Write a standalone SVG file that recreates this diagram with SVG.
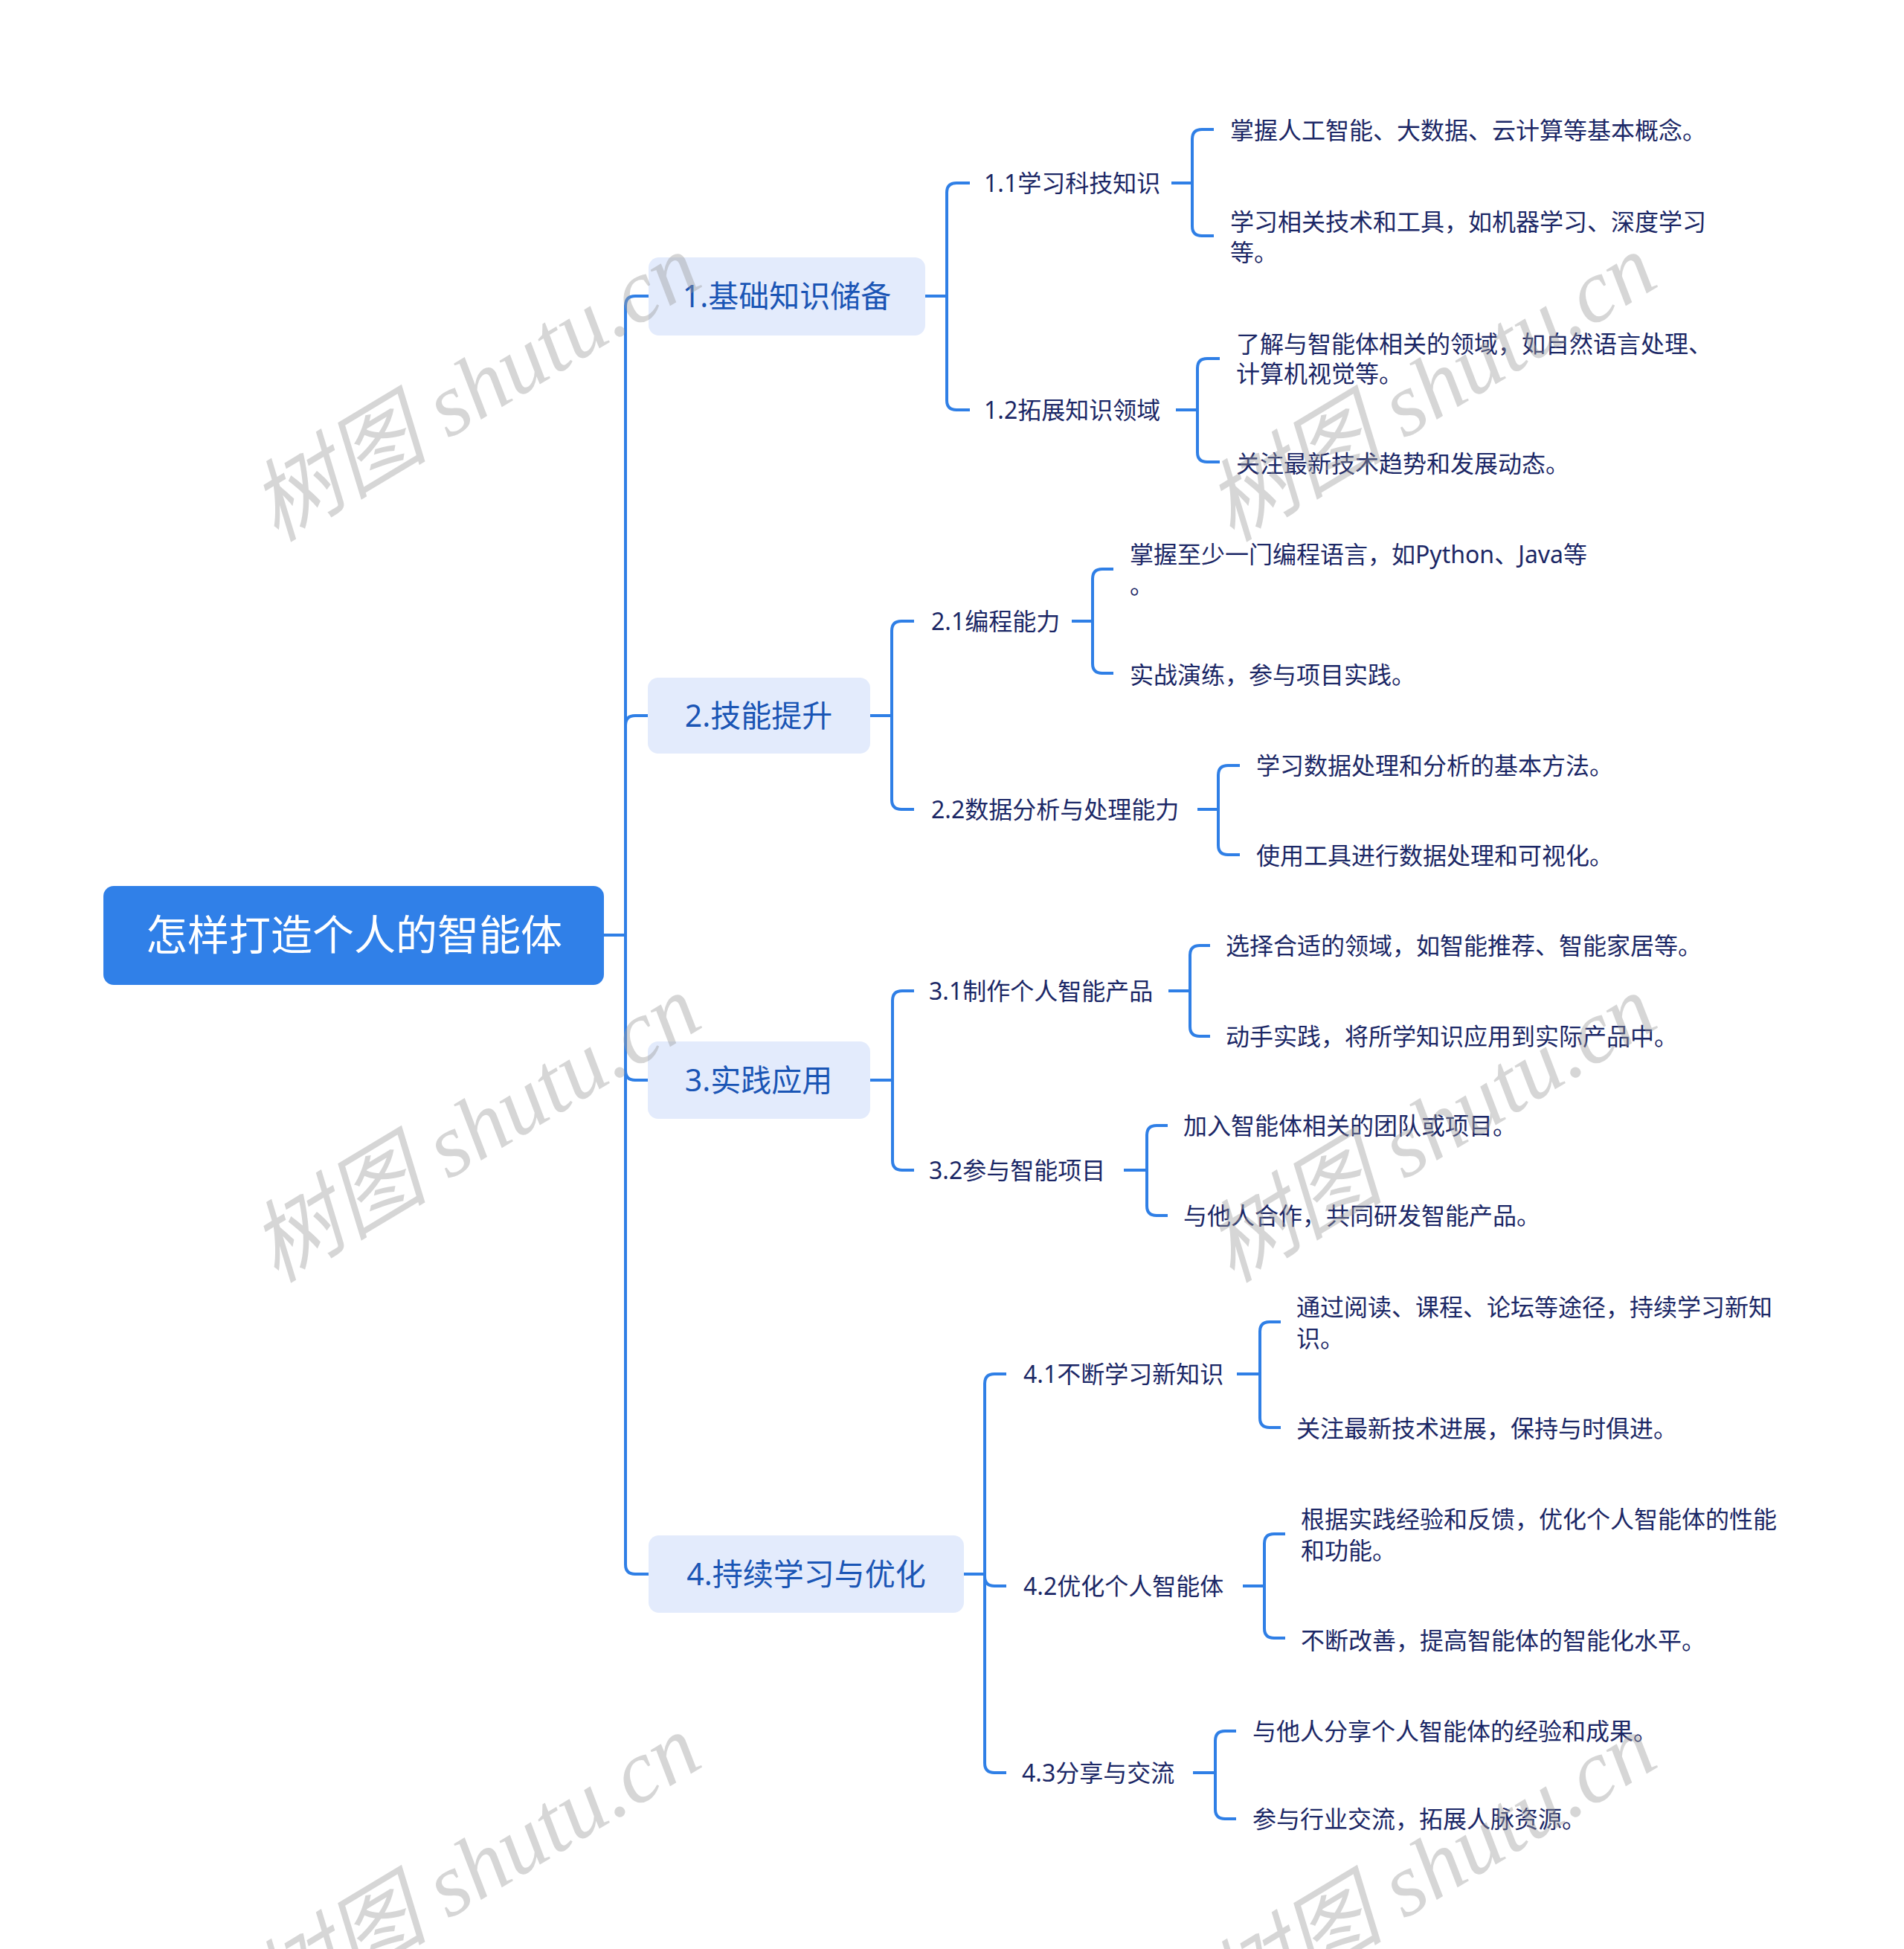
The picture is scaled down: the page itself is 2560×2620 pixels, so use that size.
<svg xmlns="http://www.w3.org/2000/svg" width="2560" height="2620" viewBox="0 0 2560 2620">
<style>
.ln{fill:none;stroke:#2f7fe6;stroke-width:4;stroke-linecap:butt;stroke-linejoin:round}
.root{fill:#3080e8}
.l1{fill:#e3ebfc}
.t0{font-family:"Noto Sans","Noto Sans CJK SC",sans-serif;font-size:56px;fill:#ffffff;text-anchor:middle}
.t1{font-family:"Noto Sans","Noto Sans CJK SC",sans-serif;font-size:41px;fill:#1a55b5;text-anchor:middle}
.t2{font-family:"Noto Sans","Noto Sans CJK SC",sans-serif;font-size:32px;fill:#1b2766}
.wm{font-family:"Liberation Serif","Noto Sans CJK SC",serif;font-style:italic;font-size:120px;fill:#9a9a9a;opacity:0.4;text-anchor:middle}
</style>
<rect width="2560" height="2620" fill="#ffffff"/>
<g id="connectors">
<path class="ln" d="M812,1257 H841 V411 Q841,398 854,398 H872"/>
<path class="ln" d="M812,1257 H841 V975 Q841,962 854,962 H872"/>
<path class="ln" d="M812,1257 H841 V1439 Q841,1452 854,1452 H872"/>
<path class="ln" d="M812,1257 H841 V2103 Q841,2116 854,2116 H872"/>
<path class="ln" d="M1244,398 H1273 V259 Q1273,246 1286,246 H1304"/>
<path class="ln" d="M1244,398 H1273 V538 Q1273,551 1286,551 H1304"/>
<path class="ln" d="M1575,246 H1603 V187 Q1603,174 1616,174 H1632"/>
<path class="ln" d="M1575,246 H1603 V304 Q1603,317 1616,317 H1632"/>
<path class="ln" d="M1581,551 H1610 V495 Q1610,482 1623,482 H1640"/>
<path class="ln" d="M1581,551 H1610 V608 Q1610,621 1623,621 H1640"/>
<path class="ln" d="M1170,962 H1199 V848 Q1199,835 1212,835 H1229"/>
<path class="ln" d="M1170,962 H1199 V1075 Q1199,1088 1212,1088 H1229"/>
<path class="ln" d="M1441,835 H1469 V778 Q1469,765 1482,765 H1497"/>
<path class="ln" d="M1441,835 H1469 V892 Q1469,905 1482,905 H1497"/>
<path class="ln" d="M1610,1088 H1638 V1042 Q1638,1029 1651,1029 H1667"/>
<path class="ln" d="M1610,1088 H1638 V1136 Q1638,1149 1651,1149 H1667"/>
<path class="ln" d="M1170,1452 H1200 V1345 Q1200,1332 1213,1332 H1229"/>
<path class="ln" d="M1170,1452 H1200 V1560 Q1200,1573 1213,1573 H1229"/>
<path class="ln" d="M1571,1332 H1600 V1284 Q1600,1271 1613,1271 H1627"/>
<path class="ln" d="M1571,1332 H1600 V1380 Q1600,1393 1613,1393 H1627"/>
<path class="ln" d="M1511,1573 H1542 V1526 Q1542,1513 1555,1513 H1570"/>
<path class="ln" d="M1511,1573 H1542 V1621 Q1542,1634 1555,1634 H1570"/>
<path class="ln" d="M1296,2116 H1324 V1860 Q1324,1847 1337,1847 H1353"/>
<path class="ln" d="M1296,2116 H1324 V2119 Q1324,2132 1337,2132 H1353"/>
<path class="ln" d="M1296,2116 H1324 V2370 Q1324,2383 1337,2383 H1353"/>
<path class="ln" d="M1663,1847 H1694 V1790 Q1694,1777 1707,1777 H1722"/>
<path class="ln" d="M1663,1847 H1694 V1906 Q1694,1919 1707,1919 H1722"/>
<path class="ln" d="M1671,2132 H1700 V2075 Q1700,2062 1713,2062 H1728"/>
<path class="ln" d="M1671,2132 H1700 V2189 Q1700,2202 1713,2202 H1728"/>
<path class="ln" d="M1604,2383 H1634 V2340 Q1634,2327 1647,2327 H1662"/>
<path class="ln" d="M1604,2383 H1634 V2432 Q1634,2445 1647,2445 H1662"/>
</g>
<g id="root">
<rect class="root" x="139" y="1191" width="673" height="133" rx="14"/>
<text class="t0" x="476" y="1277">怎样打造个人的智能体</text>
</g>
<g id="n1">
<rect class="l1" x="872" y="346" width="372" height="105" rx="14"/>
<text class="t1" x="1058" y="413">1.基础知识储备</text>
</g>
<g id="n2">
<rect class="l1" x="871" y="911" width="299" height="102" rx="14"/>
<text class="t1" x="1020" y="977">2.技能提升</text>
</g>
<g id="n3">
<rect class="l1" x="871" y="1400" width="299" height="104" rx="14"/>
<text class="t1" x="1020" y="1467">3.实践应用</text>
</g>
<g id="n4">
<rect class="l1" x="872" y="2064" width="424" height="104" rx="14"/>
<text class="t1" x="1084" y="2131">4.持续学习与优化</text>
</g>
<g id="n1-1"><text class="t2" x="1323" y="258">1.1学习科技知识</text></g>
<g id="n1-1-1"><text class="t2" x="1654" y="187">掌握人工智能、大数据、云计算等基本概念。</text></g>
<g id="n1-1-2"><text class="t2" x="1654" y="310">学习相关技术和工具，如机器学习、深度学习</text><text class="t2" x="1654" y="351">等。</text></g>
<g id="n1-2"><text class="t2" x="1323" y="563">1.2拓展知识领域</text></g>
<g id="n1-2-1"><text class="t2" x="1662" y="474">了解与智能体相关的领域，如自然语言处理、</text><text class="t2" x="1662" y="514">计算机视觉等。</text></g>
<g id="n1-2-2"><text class="t2" x="1662" y="635">关注最新技术趋势和发展动态。</text></g>
<g id="n2-1"><text class="t2" x="1252" y="847">2.1编程能力</text></g>
<g id="n2-1-1"><text class="t2" x="1519" y="757">掌握至少一门编程语言，如Python、Java等</text><text class="t2" x="1519" y="798">。</text></g>
<g id="n2-1-2"><text class="t2" x="1519" y="919">实战演练，参与项目实践。</text></g>
<g id="n2-2"><text class="t2" x="1252" y="1100">2.2数据分析与处理能力</text></g>
<g id="n2-2-1"><text class="t2" x="1689" y="1041">学习数据处理和分析的基本方法。</text></g>
<g id="n2-2-2"><text class="t2" x="1689" y="1162">使用工具进行数据处理和可视化。</text></g>
<g id="n3-1"><text class="t2" x="1249" y="1344">3.1制作个人智能产品</text></g>
<g id="n3-1-1"><text class="t2" x="1648" y="1283">选择合适的领域，如智能推荐、智能家居等。</text></g>
<g id="n3-1-2"><text class="t2" x="1648" y="1405">动手实践，将所学知识应用到实际产品中。</text></g>
<g id="n3-2"><text class="t2" x="1249" y="1585">3.2参与智能项目</text></g>
<g id="n3-2-1"><text class="t2" x="1591" y="1525">加入智能体相关的团队或项目。</text></g>
<g id="n3-2-2"><text class="t2" x="1591" y="1646">与他人合作，共同研发智能产品。</text></g>
<g id="n4-1"><text class="t2" x="1376" y="1859">4.1不断学习新知识</text></g>
<g id="n4-1-1"><text class="t2" x="1743" y="1769">通过阅读、课程、论坛等途径，持续学习新知</text><text class="t2" x="1743" y="1811">识。</text></g>
<g id="n4-1-2"><text class="t2" x="1743" y="1932">关注最新技术进展，保持与时俱进。</text></g>
<g id="n4-2"><text class="t2" x="1376" y="2144">4.2优化个人智能体</text></g>
<g id="n4-2-1"><text class="t2" x="1749" y="2054">根据实践经验和反馈，优化个人智能体的性能</text><text class="t2" x="1749" y="2096">和功能。</text></g>
<g id="n4-2-2"><text class="t2" x="1749" y="2217">不断改善，提高智能体的智能化水平。</text></g>
<g id="n4-3"><text class="t2" x="1374" y="2395">4.3分享与交流</text></g>
<g id="n4-3-1"><text class="t2" x="1684" y="2339">与他人分享个人智能体的经验和成果。</text></g>
<g id="n4-3-2"><text class="t2" x="1684" y="2457">参与行业交流，拓展人脉资源。</text></g>
<g id="watermarks">
<text class="wm" x="660" y="556" transform="rotate(-31 660 556)">树图 shutu.cn</text>
<text class="wm" x="660" y="1552" transform="rotate(-31 660 1552)">树图 shutu.cn</text>
<text class="wm" x="660" y="2546" transform="rotate(-31 660 2546)">树图 shutu.cn</text>
<text class="wm" x="1945" y="556" transform="rotate(-31 1945 556)">树图 shutu.cn</text>
<text class="wm" x="1945" y="1552" transform="rotate(-31 1945 1552)">树图 shutu.cn</text>
<text class="wm" x="1945" y="2546" transform="rotate(-31 1945 2546)">树图 shutu.cn</text>
</g>
</svg>
